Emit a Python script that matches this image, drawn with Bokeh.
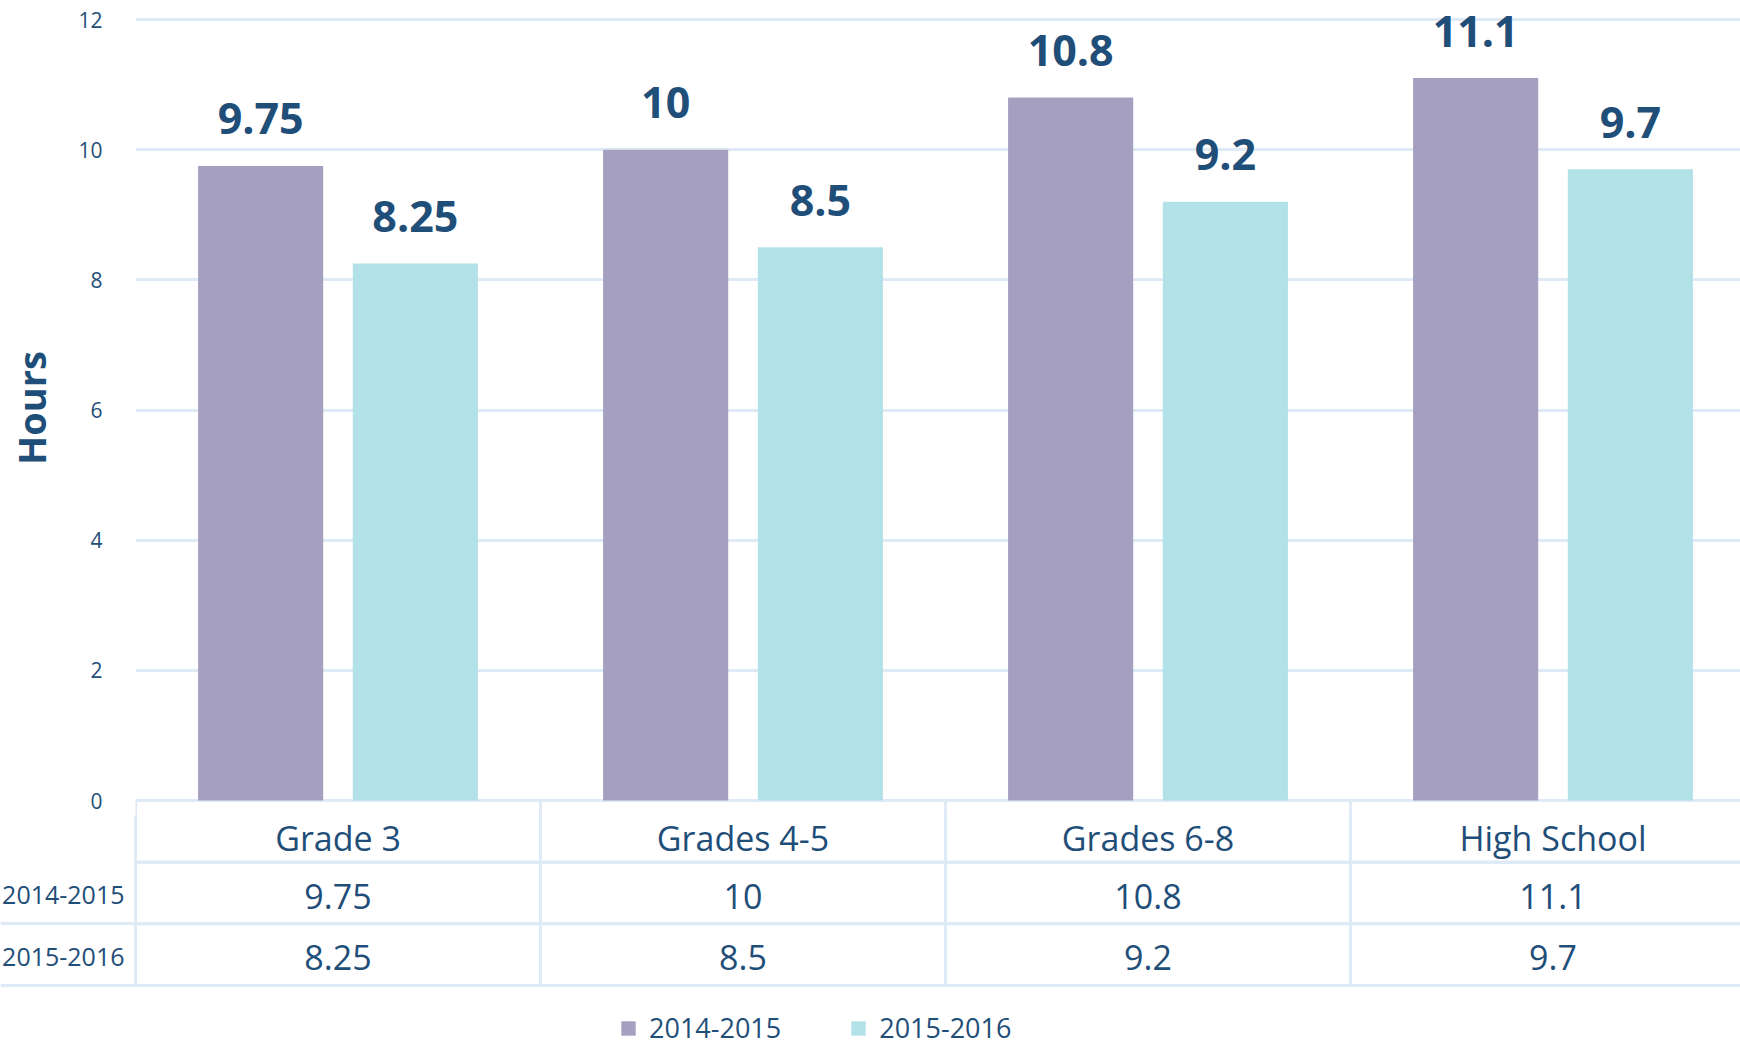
import numpy as np
from bokeh.plotting import figure
from bokeh.models import Range1d, FixedTicker, Legend, LegendItem, ColumnDataSource
from bokeh.layouts import column
from bokeh.embed import file_html
from bokeh.resources import INLINE
from bokeh.core.properties import value
from bokeh.transform import dodge

# ---------------- data ----------------
categories = ["Grade 3", "Grades 4-5", "Grades 6-8", "High School"]
series_names = ["2014-2015", "2015-2016"]
hours_2014_2015 = [9.75, 10, 10.8, 11.1]
hours_2015_2016 = [8.25, 8.5, 9.2, 9.7]
y_ticks = [0, 2, 4, 6, 8, 10, 12]
y_label = "Hours"

# ---------------- style ----------------
FONT = "Open Sans"
TXT = "#1F4E79"
C1 = "#A6A0C0"
C2 = "#B3E1E8"
GRID = "#DEEAF6"

W = 1740            # page width (template has no body margin)
FRAME_LEFT = 135    # left border of bar plot frame
CAT_PX = 405        # px per category
ZERO_PX = 800       # pixel row of value 0
EXT = 15            # bar frame continues below 0 (room for the "0" tick label)
PX_UNIT = (ZERO_PX - 19) / 12
BAR_H = ZERO_PX + EXT
TABLE_H = 1046 - BAR_H
ROW_PX = 185 / 3    # table row height
Y_START = -EXT / PX_UNIT
Y_END = max(y_ticks) + 19 / PX_UNIT
X_END = (W - FRAME_LEFT) / CAT_PX
OFF = 0.191
BAR_W = 0.309

n = len(categories)
centers = np.arange(n) + 0.5
bounds = np.arange(n + 1)

fmt = lambda v: f"{v:g}"

src = ColumnDataSource(dict(
    xc=centers,
    a=hours_2014_2015,
    b=hours_2015_2016,
    la=[fmt(v) for v in hours_2014_2015],
    lb=[fmt(v) for v in hours_2015_2016],
))

# ---------------- bar figure ----------------
p = figure(width=W, height=BAR_H, x_range=Range1d(0, X_END), y_range=Range1d(Y_START, Y_END),
           output_backend="svg", toolbar_location=None, x_axis_location=None,
           min_border_left=FRAME_LEFT, min_border_right=0, min_border_top=0, min_border_bottom=0)
p.frame_align = False
p.outline_line_color = None
p.xgrid.visible = False
p.ygrid.ticker = FixedTicker(ticks=y_ticks)
p.ygrid.grid_line_color = GRID
p.ygrid.grid_line_width = 3
p.yaxis.ticker = FixedTicker(ticks=y_ticks)
p.yaxis.axis_line_color = None
p.yaxis.major_tick_line_color = None
p.yaxis.minor_tick_line_color = None
p.yaxis.major_label_standoff = 27
p.yaxis.major_label_text_font = FONT
p.yaxis.major_label_text_font_size = "21px"
p.yaxis.major_label_text_color = TXT
p.yaxis.axis_label = y_label
p.yaxis.axis_label_text_font = FONT
p.yaxis.axis_label_text_font_style = "bold"
p.yaxis.axis_label_text_font_size = "38px"
p.yaxis.axis_label_text_color = TXT
p.yaxis.axis_label_standoff = 18

# top part of the table's column borders (between value 0 and the bar frame bottom)
p.segment(x0=bounds, x1=bounds, y0=[Y_START] * (n + 1), y1=[0] * (n + 1),
          line_color=GRID, line_width=3)

p.vbar(x=dodge("xc", -OFF), top="a", width=BAR_W, source=src, fill_color=C1, line_color=None)
p.vbar(x=dodge("xc", OFF), top="b", width=BAR_W, source=src, fill_color=C2, line_color=None)

lab_kw = dict(source=src, text_align="center", text_baseline="alphabetic", y_offset=-47,
              text_font=value(FONT), text_font_style="bold", text_font_size="43px", text_color=TXT)
p.text(x=dodge("xc", -OFF), y="a", text="la", **lab_kw)
p.text(x=dodge("xc", OFF), y="b", text="lb", **lab_kw)

# ---------------- table figure ----------------
n_rows = len(series_names) + 1
t_top = n_rows - EXT / ROW_PX
t_bottom = t_top - TABLE_H / ROW_PX
t = figure(width=W, height=TABLE_H, x_range=Range1d(-FRAME_LEFT / CAT_PX, X_END),
           y_range=Range1d(t_bottom, t_top), output_backend="svg", toolbar_location=None,
           x_axis_location=None, y_axis_location=None,
           min_border_left=0, min_border_right=0, min_border_top=0, min_border_bottom=0)
t.frame_align = False
t.outline_line_color = None
t.grid.visible = False

row_centers = np.arange(n_rows)[::-1] + 0.5   # header, series1, series2
cell_x = np.repeat(centers, n_rows)
cell_y = np.tile(row_centers, n)
t.rect(x=cell_x, y=cell_y, width=1, height=1, fill_color=None, line_color=GRID, line_width=3)
t.hspan(y=list(range(n_rows - 1)), line_color=GRID, line_width=3)

cell_kw = dict(text_align="center", text_baseline="middle",
               text_font=value(FONT), text_font_size="34px", text_color=TXT)
t.text(x=centers, y=[row_centers[0]] * n, text=categories, y_offset=7, **cell_kw)
t.text(x=centers, y=[row_centers[1]] * n, text=[fmt(v) for v in hours_2014_2015], y_offset=3, **cell_kw)
t.text(x=centers, y=[row_centers[2]] * n, text=[fmt(v) for v in hours_2015_2016], y_offset=3, **cell_kw)
t.text(x=[0, 0], y=list(row_centers[1:]), text=series_names, text_align="right",
       text_baseline="middle", x_offset=-11, y_offset=2,
       text_font=value(FONT), text_font_size="25px", text_color=TXT)

# legend (proxy renderers carrying the series colours, nothing drawn in the frame)
r1 = t.rect(x=[np.nan], y=[np.nan], width=1, height=1, fill_color=C1, line_color=None)
r2 = t.rect(x=[np.nan], y=[np.nan], width=1, height=1, fill_color=C2, line_color=None)
legend = Legend(items=[LegendItem(label=series_names[0], renderers=[r1]),
                       LegendItem(label=series_names[1], renderers=[r2])],
                orientation="horizontal", location=(619, 0),
                glyph_width=18, glyph_height=18, label_standoff=12, spacing=68,
                padding=0, margin=0, border_line_color=None, background_fill_alpha=0,
                label_text_font=FONT, label_text_font_size="27px", label_text_color=TXT)
t.add_layout(legend)

layout = column(p, t, spacing=0)
open("out.html", "w").write(file_html(layout, INLINE))
